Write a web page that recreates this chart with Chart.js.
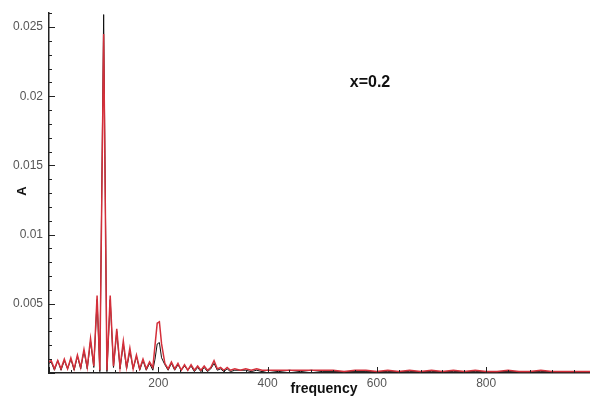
<!DOCTYPE html>
<html>
<head>
<meta charset="utf-8">
<script src="https://cdn.jsdelivr.net/npm/chart.js@4/dist/chart.umd.min.js"></script>
<style>
html, body { margin: 0; padding: 0; background: #fff; }
</style>
</head>
<body>
<canvas id="spectrum" width="590" height="403"></canvas>
<script>
// frequency grid (Hz)
const freq = [
  0, 4, 10, 16, 22, 28, 34, 40, 46, 52,
  58, 64, 70, 76, 82, 88, 93, 100, 106, 112,
  118, 124, 130, 136, 142, 148, 154, 160, 166, 172,
  178, 184, 190, 194, 198, 202, 206, 212, 218, 224,
  230, 236, 242, 248, 254, 260, 266, 272, 278, 284,
  290, 296, 302, 308, 314, 320, 326, 332, 340, 350,
  360, 370, 380, 390, 400, 420, 440, 460, 480, 500,
  520, 540, 560, 580, 600, 620, 640, 660, 680, 700,
  720, 740, 760, 780, 800, 820, 840, 860, 880, 900,
  920, 940, 960, 980, 990
];
// red curve amplitude
const ampRed = [
  0.0008, 0.0009, 0.0003, 0.0009, 0.0003, 0.0010, 0.0003, 0.0011, 0.0003, 0.0013,
  0.0004, 0.0017, 0.0004, 0.0025, 0.0005, 0.0056, 0.0002, 0.0245, 0.0002, 0.0056,
  0.0005, 0.0032, 0.0004, 0.0023, 0.0004, 0.0018, 0.0003, 0.0013, 0.0003, 0.0010,
  0.0003, 0.0008, 0.0004, 0.0020, 0.0036, 0.0037, 0.0021, 0.0007, 0.0003, 0.0008,
  0.0003, 0.0007, 0.0002, 0.0006, 0.0002, 0.0006, 0.0002, 0.0005, 0.0002, 0.0005,
  0.0002, 0.0004, 0.0009, 0.0003, 0.0004, 0.0002, 0.0004, 0.0002, 0.0003, 0.0002,
  0.0003, 0.0002, 0.0003, 0.0002, 0.0002, 0.0002, 0.0002, 0.0002, 0.0002, 0.0002,
  0.0002, 0.0001, 0.0002, 0.0002, 0.0001, 0.0002, 0.0001, 0.0002, 0.0001, 0.0002,
  0.0001, 0.0002, 0.0001, 0.0002, 0.0001, 0.0001, 0.0002, 0.0001, 0.0001, 0.0002,
  0.0001, 0.0001, 0.0001, 0.0001, 0.0001
];
// black curve amplitude
const ampBlack = [
  0.0007, 0.0008, 0.0002, 0.0009, 0.0002, 0.0009, 0.0003, 0.0010, 0.0002, 0.0012,
  0.0003, 0.0016, 0.0003, 0.0023, 0.0004, 0.0053, 0.0001, 0.0259, 0.0001, 0.0053,
  0.0004, 0.0030, 0.0003, 0.0021, 0.0003, 0.0016, 0.0003, 0.0012, 0.0002, 0.0009,
  0.0002, 0.0007, 0.0002, 0.0010, 0.0021, 0.0022, 0.0011, 0.0006, 0.0002, 0.0007,
  0.0002, 0.0006, 0.0002, 0.0005, 0.0002, 0.0005, 0.0001, 0.0004, 0.0001, 0.0004,
  0.0001, 0.0003, 0.0007, 0.0002, 0.0003, 0.0001, 0.0003, 0.0001, 0.0002, 0.0002,
  0.0002, 0.0001, 0.0002, 0.0001, 0.0002, 0.0001, 0.0002, 0.0001, 0.0002, 0.0001,
  0.0001, 0.0001, 0.0001, 0.0001, 0.0001, 0.0001, 0.0001, 0.0001, 0.0001, 0.0001,
  0.0001, 0.0001, 0.0001, 0.0001, 0.0001, 0.0001, 0.0001, 0.0001, 0.0001, 0.0001,
  0.0001, 0.0001, 0.0001, 0.0001, 0.0001
];
const xTicks = [200, 400, 600, 800];
const yTicks = [0.005, 0.01, 0.015, 0.02, 0.025];
const yTickLabels = ['0.005', '0.01', '0.015', '0.02', '0.025'];

// inward tick marks + free text (axis titles, annotation)
const decorations = {
  id: 'decorations',
  afterDraw(chart) {
    const ctx = chart.ctx, xs = chart.scales.x, ys = chart.scales.y, a = chart.chartArea;
    ctx.save();
    ctx.strokeStyle = '#222';
    ctx.lineWidth = 1;
    for (let v = 0; v <= xs.max; v += 40) {
      const px = Math.round(xs.getPixelForValue(v)) + 0.5;
      const len = v % 200 === 0 ? 6 : 3;
      ctx.beginPath(); ctx.moveTo(px, a.bottom); ctx.lineTo(px, a.bottom - len); ctx.stroke();
    }
    for (let i = 0; i <= 26; i++) {
      const py = Math.round(ys.getPixelForValue(i * 0.001)) + 0.5;
      const len = i % 5 === 0 ? 6 : 3;
      ctx.beginPath(); ctx.moveTo(a.left, py); ctx.lineTo(a.left + len, py); ctx.stroke();
    }
    ctx.fillStyle = '#111';
    ctx.textAlign = 'center';
    ctx.textBaseline = 'middle';
    ctx.font = 'bold 16px "Liberation Sans", Arial, sans-serif';
    ctx.fillText('x=0.2', 370, 83);
    ctx.font = 'bold 14px "Liberation Sans", Arial, sans-serif';
    ctx.fillText('frequency', 324, 389);
    ctx.font = 'bold 13px "Liberation Sans", Arial, sans-serif';
    ctx.translate(22, 191);
    ctx.rotate(-Math.PI / 2);
    ctx.fillText('A', 0, 0);
    ctx.restore();
  }
};

const ctx = document.getElementById('spectrum');
const chart = new Chart(ctx, {
  type: 'line',
  data: {
    datasets: [{
      label: 'red',
      data: freq.map((f, i) => ({ x: f, y: ampRed[i] })),
      borderColor: '#d42f3a',
      borderWidth: 1.5,
      pointRadius: 0,
      tension: 0
    }, {
      label: 'black',
      data: freq.map((f, i) => ({ x: f, y: ampBlack[i] })),
      borderColor: '#111',
      borderWidth: 1,
      pointRadius: 0,
      tension: 0
    }]
  },
  options: {
    responsive: false,
    animation: false,
    devicePixelRatio: 1,
    layout: { padding: { top: 9, right: 0, left: 0, bottom: 0 } },
    plugins: { legend: { display: false }, tooltip: { enabled: false } },
    scales: {
      x: {
        type: 'linear',
        min: 0,
        max: 990,
        grid: { display: false, drawTicks: false },
        border: { color: '#222', width: 1.5 },
        ticks: { color: '#555', font: { size: 12, family: '"Liberation Sans", Arial' }, padding: 3, maxRotation: 0 },
        afterBuildTicks: (s) => { s.ticks = xTicks.map(v => ({ value: v })); },
        afterFit: (s) => { s.height = 30; }
      },
      y: {
        type: 'linear',
        min: 0,
        max: 0.026,
        grid: { display: false, drawTicks: false },
        border: { color: '#222', width: 1.5 },
        ticks: {
          color: '#555',
          font: { size: 12, family: '"Liberation Sans", Arial' },
          padding: 6,
          callback: (v) => yTickLabels[yTicks.indexOf(v)]
        },
        afterBuildTicks: (s) => { s.ticks = yTicks.map(v => ({ value: v })); },
        afterFit: (s) => { s.width = 49; }
      }
    }
  },
  plugins: [decorations]
});
</script>
</body>
</html>
